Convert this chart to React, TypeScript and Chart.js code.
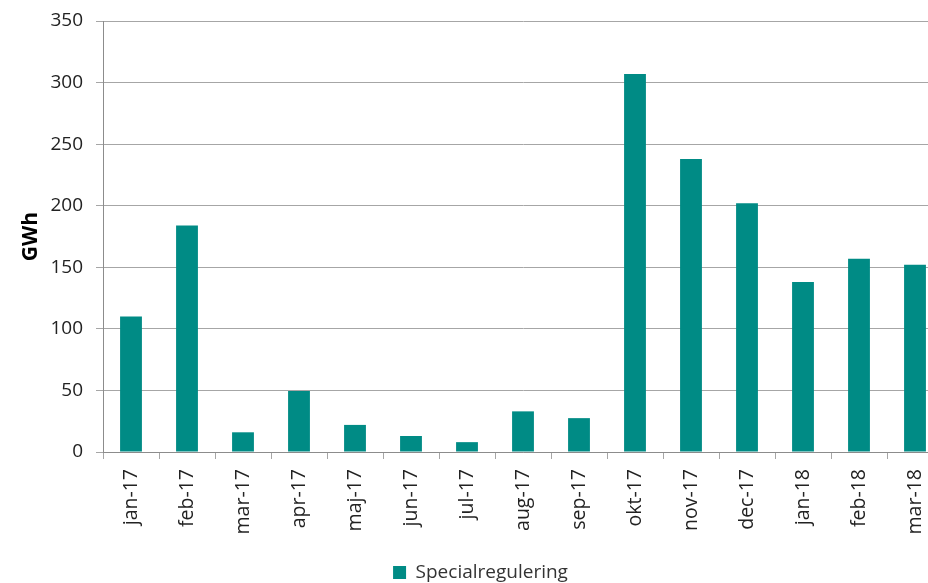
import React, { useEffect, useRef } from "react";
import { Chart, registerables } from "chart.js";

Chart.register(...registerables);

const categories = ["jan-17","feb-17","mar-17","apr-17","maj-17","jun-17","jul-17","aug-17","sep-17","okt-17","nov-17","dec-17","jan-18","feb-18","mar-18"];
const specialregulering = [110, 184, 16, 49.5, 22, 13, 8, 33, 27.5, 307, 238, 202, 138, 157, 152];
const yTicks = [0, 50, 100, 150, 200, 250, 300, 350];
const seriesName = "Specialregulering";
const yTitle = "GWh";

export default function App() {
  const ref = useRef<HTMLCanvasElement>(null);
  useEffect(() => {
    const font = "'Open Sans', 'Noto Sans', sans-serif";
    const chart = new Chart(ref.current!, {
      type: "bar",
      data: {
        labels: categories,
        datasets: [{
          label: seriesName,
          data: specialregulering,
          backgroundColor: "#008B85",
          barPercentage: 0.39,
          categoryPercentage: 1,
        }],
      },
      options: {
        animation: false,
        responsive: false,
        maintainAspectRatio: false,
        layout: { padding: { top: 21, right: 0, left: 18, bottom: -9 } },
        plugins: {
          tooltip: { enabled: false },
          legend: {
            position: "bottom",
            labels: { boxWidth: 13, boxHeight: 13, color: "#333", font: { family: font, size: 19 }, padding: 0 },
          },
        },
        scales: {
          x: {
            offset: true,
            afterFit: (s: any) => { s.height = 111; s.paddingRight = 0; s.paddingLeft = 0; },
            grid: { offset: true, drawOnChartArea: false, drawTicks: true, tickLength: 7, color: "#A6A6A6" },
            border: { color: "#8C8C8C" },
            ticks: { minRotation: 90, maxRotation: 90, color: "#222", font: { family: font, size: 19.5 }, padding: 10, autoSkip: false },
          },
          y: {
            min: 0,
            max: 350,
            afterBuildTicks: (s: any) => { s.ticks = yTicks.map((v) => ({ value: v })); },
            afterFit: (s: any) => { s.width = 85; s.paddingTop = 0; s.paddingBottom = 0; },
            grid: { color: "#A6A6A6", tickLength: 7 },
            border: { color: "#8C8C8C" },
            title: { display: true, text: yTitle, color: "#000", font: { family: font, size: 21, weight: "bold" }, padding: 0 },
            ticks: { color: "#222", font: { family: font, size: 19 }, padding: 13 },
          },
        },
      },
    });
    return () => chart.destroy();
  }, []);
  return (
    <div style={{ position: "fixed", left: 0, top: 0, width: 928, height: 583, overflow: "hidden", background: "#fff" }}>
      <canvas ref={ref} width={943} height={583} style={{ display: "block" }} />
    </div>
  );
}
